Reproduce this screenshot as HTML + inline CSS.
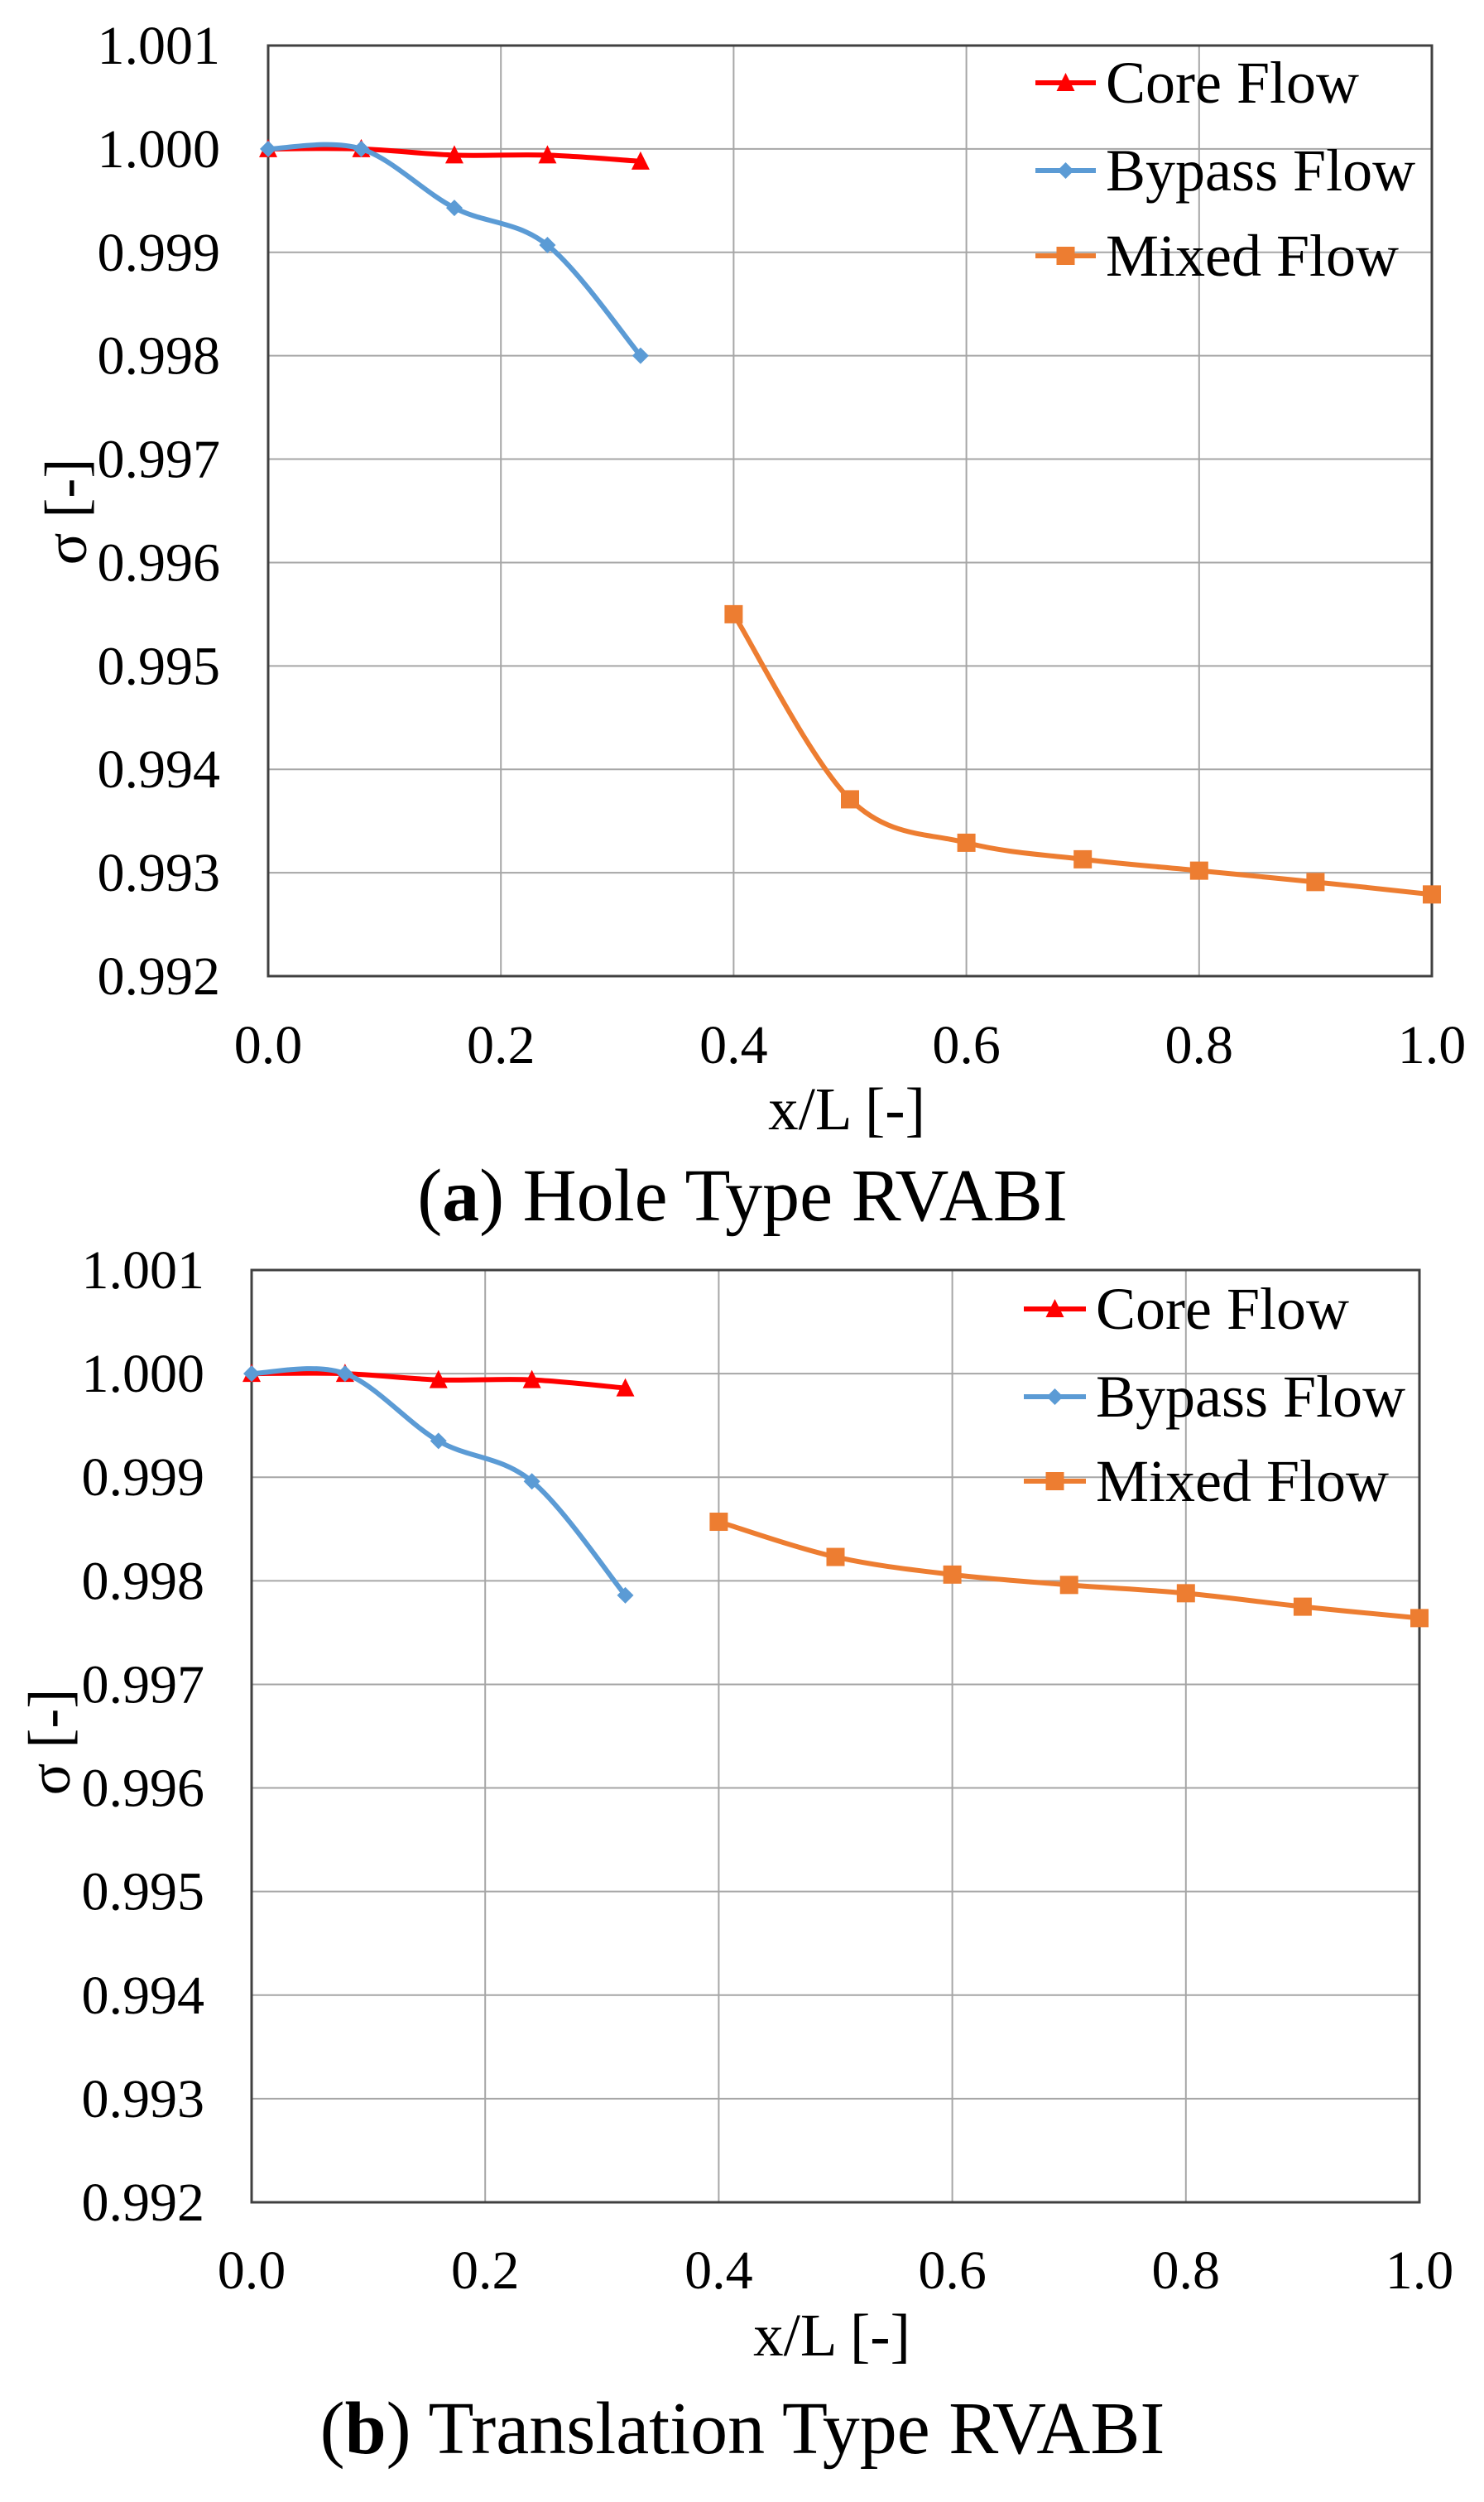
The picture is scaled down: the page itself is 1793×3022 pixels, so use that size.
<!DOCTYPE html>
<html><head><meta charset="utf-8"><style>
html,body{margin:0;padding:0;background:#fff;}
svg{display:block;font-family:"Liberation Serif",serif;}
</style></head><body>
<svg id="fig" width="1793" height="3022" viewBox="0 0 1793 3022" xmlns="http://www.w3.org/2000/svg"></svg>
<script>
const xTicks=[0,0.2,0.4,0.6,0.8,1.0];
const yTicks=[0.992,0.993,0.994,0.995,0.996,0.997,0.998,0.999,1.000,1.001];
const seriesNames=["Core Flow","Bypass Flow","Mixed Flow"];
const upstreamX=[0,0.08,0.16,0.24,0.32];
const mixedX=[0.4,0.5,0.6,0.7,0.8,0.9,1.0];
const coreA=[1.0000,1.0000,0.99994,0.99994,0.99988];
const bypassA=[1.0000,1.0000,0.99943,0.99907,0.99800];
const mixedA=[0.99550,0.99371,0.99329,0.99313,0.99302,0.99291,0.99279];
const coreB=[1.0000,1.0000,0.99994,0.99994,0.99986];
const bypassB=[1.0000,1.0000,0.99935,0.99896,0.99786];
const mixedB=[0.99857,0.99823,0.99806,0.99796,0.99788,0.99775,0.99764];

const NS="http://www.w3.org/2000/svg";
const svg=document.getElementById('fig');
function mk(tag,attrs,parent){const e=document.createElementNS(NS,tag);for(const k in attrs)e.setAttribute(k,attrs[k]);(parent||svg).appendChild(e);return e;}
function smooth(pts){let d="M"+pts[0][0]+","+pts[0][1];for(let i=0;i<pts.length-1;i++){const p0=pts[i-1]||pts[i],p1=pts[i],p2=pts[i+1],p3=pts[i+2]||p2;const t=1/6;d+=" C"+(p1[0]+(p2[0]-p0[0])*t)+","+(p1[1]+(p2[1]-p0[1])*t)+" "+(p2[0]-(p3[0]-p1[0])*t)+","+(p2[1]-(p3[1]-p1[1])*t)+" "+p2[0]+","+p2[1];}return d;}

function chart(cfg){
  const g=mk('g',{});
  
  
  const L=cfg.L,R=cfg.R,T=cfg.T,B=cfg.B;
  const xs=v=>L+(v-0)/(1-0)*(R-L);
  const ys=v=>B-(v-0.992)/(1.001-0.992)*(B-T);
  xTicks.forEach(v=>{const l=mk('line',{x1:xs(v),x2:xs(v),y1:T,y2:B,stroke:'#a6a6a6','stroke-width':2},g);
    
    const t=mk('text',{x:xs(v),y:cfg.xLabY,'text-anchor':'middle','font-size':66},g);t.textContent=v.toFixed(1);
    });
  yTicks.forEach(v=>{const l=mk('line',{x1:L,x2:R,y1:ys(v),y2:ys(v),stroke:'#a6a6a6','stroke-width':2},g);
    
    const t=mk('text',{x:cfg.yLabX,y:ys(v)+22,'text-anchor':'end','font-size':66},g);t.textContent=v.toFixed(3);
    });
  const f=mk('rect',{x:L,y:T,width:R-L,height:B-T,fill:'none',stroke:'#404040','stroke-width':3},g);
  
  const ser=[[upstreamX,cfg.core,'#ff0000','tri'],[upstreamX,cfg.bypass,'#5b9bd5','dia'],[mixedX,cfg.mixed,'#ed7d31','sq']];
  ser.forEach((s,si)=>{const pts=s[0].map((x,i)=>[xs(x),ys(s[1][i])]);
    const p=mk('path',{d:smooth(pts),fill:'none',stroke:s[2],'stroke-width':6},g);
    
    pts.forEach(q=>{const m=marker(s[3],q[0],q[1],s[2],g);});});
  seriesNames.forEach((n,i)=>{const y=cfg.legY[i];const s=ser[i];
    const l=mk('line',{x1:cfg.legX1,x2:cfg.legX2,y1:y,y2:y,stroke:s[2],'stroke-width':6},g);
    
    const m=marker(s[3],(cfg.legX1+cfg.legX2)/2,y,s[2],g);
    const t=mk('text',{x:cfg.legX2+12,y:y+24,'font-size':72},g);t.textContent=n;
    });
  const xt=mk('text',{x:cfg.xTitleX,y:cfg.xTitleY,'text-anchor':'middle','font-size':73},g);xt.textContent='x/L [-]';
  
  const yt=mk('text',{x:0,y:0,'text-anchor':'middle','font-size':72,transform:'translate('+cfg.yTitleX+','+cfg.yTitleY+') rotate(-90)'},g);yt.textContent='σ [-]';
  
  const c=mk('text',{x:897,y:cfg.capY,'text-anchor':'middle','font-size':90},g);
  c.innerHTML='(<tspan font-weight="bold">'+cfg.cap[0]+'</tspan>) '+cfg.cap[1];
  
}
function marker(type,x,y,col,g){
  if(type==='tri')return mk('polygon',{points:(x-11)+','+(y+10)+' '+(x+11)+','+(y+10)+' '+x+','+(y-12),fill:col},g);
  if(type==='dia')return mk('polygon',{points:x+','+(y-10)+' '+(x+10)+','+y+' '+x+','+(y+10)+' '+(x-10)+','+y,fill:col},g);
  return mk('rect',{x:x-11,y:y-11,width:22,height:22,fill:col},g);
}
chart({name:'chart-a-hole-type',L:324,R:1730,T:55,B:1179,core:coreA,bypass:bypassA,mixed:mixedA,
  xLabY:1284,yLabX:266,legY:[100,206,309],legX1:1251,legX2:1324,xTitleX:1023,xTitleY:1364,yTitleX:104,yTitleY:618,capY:1474,cap:['a','Hole Type RVABI']});
chart({name:'chart-b-translation-type',L:304,R:1715,T:1534,B:2660,core:coreB,bypass:bypassB,mixed:mixedB,
  xLabY:2764,yLabX:247,legY:[1581,1687,1789],legX1:1237,legX2:1312,xTitleX:1005,xTitleY:2845,yTitleX:84,yTitleY:2104,capY:2963,cap:['b','Translation Type RVABI']});
</script>
</body></html>
